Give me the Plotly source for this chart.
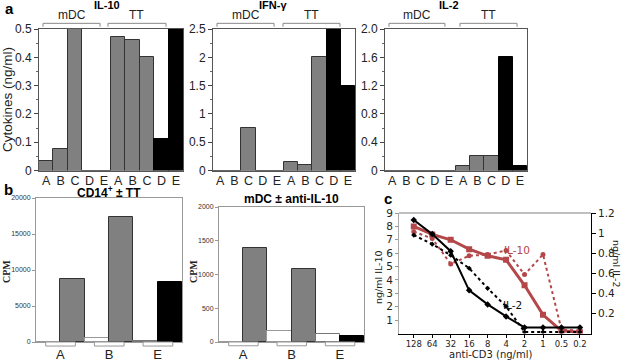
import plotly.graph_objects as go

W, H = 624, 361

# ---------------- data ----------------
cats_a = ["A", "B", "C", "D", "E", "A", "B", "C", "D", "E"]
il10_vals = [0.035, 0.075, 0.5, 0, 0, 0.47, 0.46, 0.40, 0.11, 0.5]
ifng_vals = [0, 0, 0.75, 0, 0, 0.15, 0.10, 2.0, 2.5, 1.5]
il2_vals = [0, 0, 0, 0, 0, 0.07, 0.21, 0.21, 1.6, 0.06]
groups_a = ["mDC", "TT"]

cats_b = ["A", "B", "E"]
cd14_vals = [0, 8800, 600, 17400, 150, 8400]
mdc_vals = [0, 1390, 170, 1075, 125, 90]

cd3_labels = ["128", "64", "32", "16", "8", "4", "2", "1", "0.5", "0.2"]
il10_solid = [8.0, 7.4, 7.0, 6.3, 5.8, 5.5, 3.6, 1.4, 0.2, 0.1]
il10_dotted = [7.6, 7.1, 5.2, 5.8, 5.9, 6.2, 4.4, 5.9, 0.3, 0.2]
il2_solid = [1.13, 0.99, 0.82, 0.43, 0.29, 0.17, 0.06, 0.06, 0.06, 0.06]
il2_dotted = [0.98, 0.89, 0.78, 0.65, 0.45, 0.27, 0.015, 0.015, 0.015, 0.015]

GRAY = "#808080"
RED = "#b3474a"
ARIAL = "Liberation Sans"
VERD = "DejaVu Sans"

def px_x(a, b):
    return [a / W, b / W]

def px_y(top, bottom):
    return [1 - bottom / H, 1 - top / H]

def note(x, y, text, size, family=ARIAL, color="#222", angle=0):
    return dict(x=x / W, y=1 - y / H, xref="paper", yref="paper", text=text,
                textangle=angle, showarrow=False, xanchor="center", yanchor="middle",
                font=dict(family=family, size=size, color=color))

fig = go.Figure()

# ---------------- panel a ----------------
colors_a = [GRAY] * 8 + ["#000000"] * 2
lines_a = ["#333333"] * 8 + ["#000000"] * 2
xpos_a = list(range(len(cats_a)))

panel_a = [
    ("x", "y", il10_vals, "IL-10", (39, 183), [0, 0.5], 0.1, 0.05, None, None),
    ("x2", "y2", ifng_vals, "IFN-γ", (213, 355), [0, 2.5], 0.5, 0.25, None, None),
    ("x3", "y3", il2_vals, "IL-2", (385, 527), [0, 2.0], None, 0.2,
     [0, 0.4, 0.8, 1.2, 1.6, 2.0], ["0", "0.4", "0.8", "1.2", "1.6", "2.0"]),
]
brackets_a = [
    [(-0.22, 3.74), (4.29, 8.32)],
    [(-0.22, 3.80), (4.43, 8.44)],
    [(-0.22, 3.72), (4.78, 8.80)],
]
title_x_a = [4.2, 3.7, 4.0]

shapes = []
annotations = []
for i, (xa, ya, vals, title, (l, r), yr, dt, mdt, tv, tt) in enumerate(panel_a):
    fig.add_trace(go.Bar(x=xpos_a, y=vals, xaxis=xa, yaxis=ya, width=1,
                         marker=dict(color=colors_a, line=dict(color=lines_a, width=1)),
                         showlegend=False))
    xk = "xaxis" + ("" if xa == "x" else xa[1:])
    yk = "yaxis" + ("" if ya == "y" else ya[1:])
    fig.layout[xk] = dict(domain=px_x(l, r), anchor=ya, range=[-0.5, 9.5], automargin=False,
                          tickvals=xpos_a, ticktext=cats_a, ticks="", ticklabelstandoff=-2,
                          showline=True, linecolor="#555", mirror=True,
                          showgrid=False, zeroline=False,
                          tickfont=dict(family=ARIAL, size=12.5, color="#222"))
    ydict = dict(domain=px_y(29, 170.5), anchor=xa, range=yr, automargin=False,
                 ticks="outside", ticklen=4, tickcolor="#444",
                 minor=dict(dtick=mdt, ticks="outside", ticklen=2, tickcolor="#666"),
                 showline=True, linecolor="#555", mirror=True,
                 showgrid=False, zeroline=False,
                 tickfont=dict(family=ARIAL, size=12, color="#222"))
    if tv is not None:
        ydict.update(tickmode="array", tickvals=tv, ticktext=tt)
    else:
        ydict.update(dtick=dt, tick0=0)
    fig.layout[yk] = ydict
    for (x0, x1), g in zip(brackets_a[i], groups_a):
        shapes.append(dict(type="path", xref=xa, yref=ya + " domain",
                           path=f"M {x0},1.016 L {x0},1.04 L {x1},1.04 L {x1},1.016",
                           line=dict(color="#888", width=1)))
        annotations.append(dict(x=(x0 + x1) / 2, y=1.10, xref=xa, yref=ya + " domain",
                                text=g, showarrow=False, xanchor="center", yanchor="middle",
                                font=dict(family=ARIAL, size=12, color="#222")))
    annotations.append(dict(x=title_x_a[i], y=1.17, xref=xa, yref=ya + " domain",
                            text="<b>" + title + "</b>", showarrow=False,
                            xanchor="center", yanchor="middle",
                            font=dict(family=ARIAL, size=11, color="#000")))

annotations.append(note(7, 100, "Cytokines (ng/ml)", 13.5, angle=-90))

# ---------------- panel b ----------------
colors_b = ["#ffffff", GRAY, "#ffffff", GRAY, "#ffffff", "#000000"]
lines_b = ["#999999", "#333333", "#999999", "#333333", "#777777", "#000000"]
xpos_b = list(range(6))
panel_b = [
    ("x4", "y4", cd14_vals, "CD14<sup>+</sup> ± TT", (36, 182), (198, 342), [0, 20000], 5000, 192, 6),
    ("x5", "y5", mdc_vals, "mDC ± anti-IL-10", (219, 364), (207, 342), [0, 2000], 500, 199, 193),
]
for xa, ya, vals, title, (l, r), (t, b), yr, dt, ty, cpmx in panel_b:
    fig.add_trace(go.Bar(x=xpos_b, y=vals, xaxis=xa, yaxis=ya, width=1,
                         marker=dict(color=colors_b, line=dict(color=lines_b, width=1)),
                         showlegend=False))
    fig.layout["xaxis" + xa[1:]] = dict(domain=px_x(l, r), anchor=ya, range=[-0.5, 5.5],
                                        automargin=False,
                                        tickvals=[0.5, 2.5, 4.5], ticktext=cats_b, ticks="",
                                        showline=True, linecolor="#999", mirror=True,
                                        showgrid=False, zeroline=False,
                                        tickfont=dict(family=ARIAL, size=13, color="#222"))
    fig.layout["yaxis" + ya[1:]] = dict(domain=px_y(t, b), anchor=xa, range=yr, dtick=dt,
                                        automargin=False,
                                        tickformat="d", ticks="outside", ticklen=3,
                                        tickcolor="#999",
                                        showline=True, linecolor="#999", mirror=True,
                                        showgrid=False, zeroline=False,
                                        tickfont=dict(family=ARIAL, size=7, color="#333"))
    for c in [0.5, 2.5, 4.5]:
        shapes.append(dict(type="rect", xref=xa, yref=ya + " domain",
                           x0=c - 0.6, x1=c + 0.62, y0=-0.028, y1=0,
                           line=dict(color="#999", width=1), fillcolor="white"))
    annotations.append(note((l + r) / 2, ty, "<b>" + title + "</b>", 12, color="#000"))
    annotations.append(note(cpmx, 272, "<b>CPM</b>", 10, family="Liberation Serif", angle=-90))

# ---------------- panel c ----------------
xpos_c = list(range(len(cd3_labels)))
fig.add_trace(go.Scatter(x=xpos_c, y=il10_solid, xaxis="x6", yaxis="y6", mode="lines+markers",
                         line=dict(color=RED, width=3), marker=dict(symbol="square", size=6, color=RED),
                         showlegend=False))
fig.add_trace(go.Scatter(x=xpos_c, y=il10_dotted, xaxis="x6", yaxis="y6", mode="lines+markers",
                         line=dict(color=RED, width=2, dash="dot"),
                         marker=dict(symbol="circle", size=5, color=RED), showlegend=False))
fig.add_trace(go.Scatter(x=xpos_c, y=il2_solid, xaxis="x6", yaxis="y7", mode="lines+markers",
                         line=dict(color="#000", width=2),
                         marker=dict(symbol="diamond", size=5, color="#000"), showlegend=False))
fig.add_trace(go.Scatter(x=xpos_c, y=il2_dotted, xaxis="x6", yaxis="y7", mode="lines+markers",
                         line=dict(color="#000", width=2, dash="dot"),
                         marker=dict(symbol="diamond", size=4, color="#000"), showlegend=False))

fig.layout.xaxis6 = dict(domain=px_x(399, 591), anchor="y6", range=[-0.8, 9.6], automargin=False,
                         tickvals=xpos_c, ticktext=cd3_labels, ticks="outside", ticklen=3,
                         ticklabelstandoff=-1,
                         tickcolor="#000", showline=True, linecolor="#000",
                         showgrid=False, zeroline=False,
                         tickfont=dict(family=VERD, size=8.5, color="#222"))
fig.layout.yaxis6 = dict(domain=px_y(213, 333.5), anchor="x6", range=[0, 9], automargin=False,
                         tickvals=list(range(1, 10)), ticks="outside", ticklen=3, tickcolor="#999",
                         showline=True, linecolor="#aaa", showgrid=False, zeroline=False,
                         tickfont=dict(family=VERD, size=10.5, color="#222"))
fig.layout.yaxis7 = dict(overlaying="y6", side="right", anchor="x6", range=[0, 1.2],
                         automargin=False,
                         tickvals=[0.2, 0.4, 0.6, 0.8, 1.0, 1.2],
                         ticktext=["0.2", "0.4", "0.6", "0.8", "1", "1.2"],
                         ticks="outside", ticklen=4, tickcolor="#000",
                         showline=True, linecolor="#000", showgrid=False, zeroline=False,
                         tickfont=dict(family=VERD, size=10.5, color="#222"))
shapes.append(dict(type="line", xref="x6 domain", yref="y6 domain", x0=0, x1=1, y0=1, y1=1,
                   line=dict(color="#aaa", width=1.5)))

annotations += [
    note(490, 354.5, "anti-CD3 (ng/ml)", 10, family=VERD),
    note(378, 277, "ng/ml IL-10", 9.5, family=VERD, angle=-90),
    note(617, 264, "ng/ml IL-2", 9.5, family=VERD, angle=90),
    note(517, 250, "IL-10", 10.5, family=VERD, color=RED),
    note(512, 305, "IL-2", 10.5, family=VERD, color="#111"),
    note(9, 9, "<b>a</b>", 15, color="#000"),
    note(8, 189, "<b>b</b>", 15, color="#000"),
    note(388, 199, "<b>c</b>", 15, color="#000"),
]

fig.update_layout(template="none", width=W, height=H, margin=dict(l=0, r=0, t=0, b=0),
                  autosize=False,
                  paper_bgcolor="white", plot_bgcolor="white", bargap=0, barmode="overlay",
                  shapes=shapes, annotations=annotations, showlegend=False)

fig.write_html("out.html", config={"displayModeBar": False},
               post_script="document.body.style.margin='0';document.body.style.padding='0';")
